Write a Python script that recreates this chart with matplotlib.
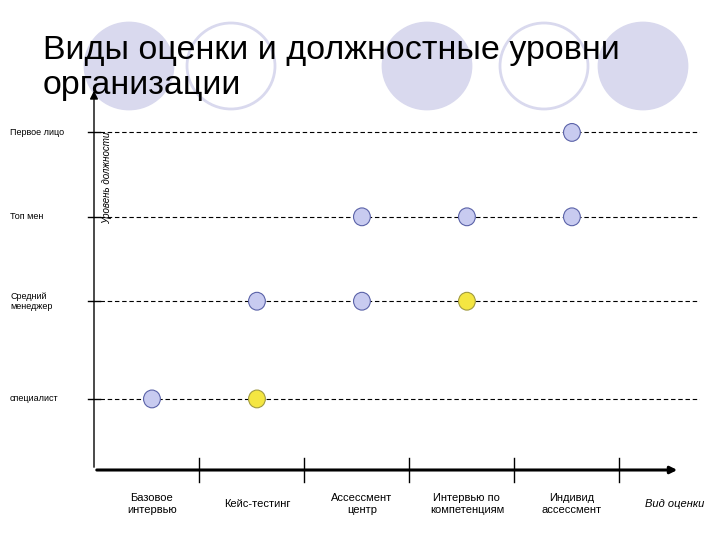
import matplotlib
matplotlib.use("Agg")
import matplotlib.pyplot as plt
from matplotlib.patches import Ellipse

plt.rcParams['font.family'] = ['Liberation Sans', 'DejaVu Sans']

title = "Виды оценки и должностные уровни\nорганизации"
methods = ["Базовое\nинтервью", "Кейс-тестинг", "Ассессмент\nцентр",
           "Интервью по\nкомпетенциям", "Индивид\nассессмент"]
levels = ["специалист", "Средний\nменеджер", "Топ мен", "Первое лицо"]
level_pos = [1.0, 2.1, 3.05, 4.0]
# points: (method index, level index, highlighted)
pt_method = [0, 1, 1, 2, 2, 3, 3, 4, 4]
pt_level = [0, 0, 1, 1, 2, 1, 2, 2, 3]
pt_yellow = [False, True, False, False, False, True, False, False, False]

W, H = 720, 540
fig = plt.figure(figsize=(7.2, 5.4), dpi=100)

bg = fig.add_axes([0, 0, 1, 1], zorder=0)
bg.set_xlim(0, W); bg.set_ylim(H, 0); bg.axis('off')
for cx, filled in [(129, True), (231, False), (427, True), (544, False), (643, True)]:
    bg.add_patch(Ellipse((cx, 66), 88, 86, facecolor='#d9d9ee' if filled else 'white',
                         edgecolor='#d9d9ee', lw=2))
bg.text(43, 68, title, fontsize=24.5, va='center', ha='left', linespacing=1.15, zorder=5)

left, right, bottom, top = 94, 700, 470, 88
ax = fig.add_axes([left / W, 1 - bottom / H, (right - left) / W, (bottom - top) / H], zorder=2)
ax.patch.set_alpha(0)
x0 = -0.552
xmax = 5.22
ax.set_xlim(x0, xmax)
ax.set_ylim(0.2, 4.5)
for s in ax.spines.values():
    s.set_visible(False)
ax.set_xticks([]); ax.set_yticks([])

ax.annotate('', xy=(5.03, 0.2), xytext=(x0, 0.2),
            arrowprops=dict(arrowstyle='-|>', lw=2.2, color='black', mutation_scale=10),
            annotation_clip=False)
ax.annotate('', xy=(x0, 4.5), xytext=(x0, 0.2),
            arrowprops=dict(arrowstyle='-|>', lw=1, color='black', mutation_scale=12),
            annotation_clip=False)
for i in range(5):
    ax.plot([i + 0.45, i + 0.45], [0.06, 0.34], color='black', lw=1, clip_on=False)
for i, m in enumerate(methods):
    ax.text(i, -0.18, m, ha='center', va='center', fontsize=8)
ax.text(4.98, -0.18, "Вид оценки", ha='center', va='center', fontsize=8, style='italic',
        clip_on=False)

for lp, lab in zip(level_pos, levels):
    ax.plot([x0 - 0.06, x0 + 0.06], [lp, lp], color='black', lw=1, clip_on=False)
    ax.plot([x0 + 0.06, xmax], [lp, lp], color='black', lw=0.8, ls=(0, (4, 2.5)))
    ax.text(x0 - 0.8, lp, lab, ha='left', va='center', fontsize=6.5, clip_on=False,
            multialignment='left')

ax.text(x0 + 0.12, 2.97, "Уровень должности", rotation=90, ha='center', va='bottom',
        fontsize=7, style='italic', clip_on=False)

for m, l, y in zip(pt_method, pt_level, pt_yellow):
    ax.add_patch(Ellipse((m, level_pos[l]), 0.16, 0.2,
                         facecolor='#f4e642' if y else '#c8cbf0',
                         edgecolor='#a09a40' if y else '#5a62a8', lw=0.8, zorder=4))

fig.savefig("out.png", dpi=100)
